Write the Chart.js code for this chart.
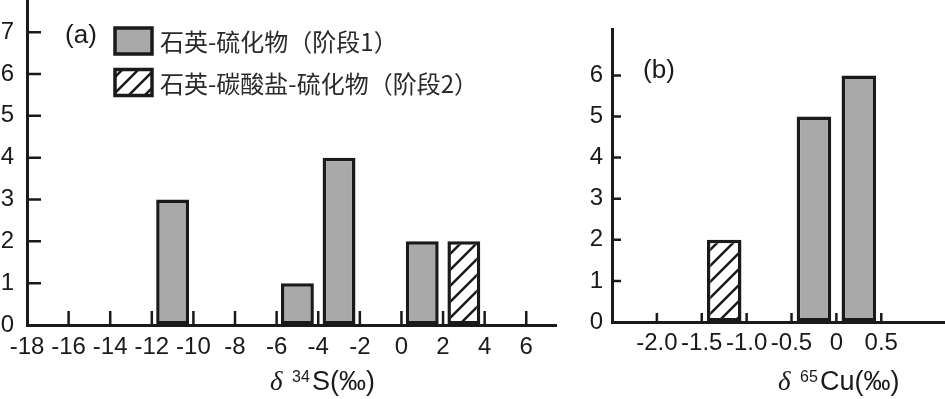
<!DOCTYPE html>
<html>
<head>
<meta charset="utf-8">
<script src="https://cdn.jsdelivr.net/npm/chart.js@4"></script>
<style>
  html, body { margin: 0; padding: 0; background: #fff; }
  #wrap { position: relative; width: 945px; height: 399px; overflow: hidden; }
  #graph_sulfur { position: absolute; left: 0; top: 0; }
  #graph_copper { position: absolute; left: 560px; top: 0; }
</style>
</head>
<body>
<div id="wrap">
  <canvas id="graph_sulfur" width="560" height="399"></canvas>
  <canvas id="graph_copper" width="385" height="399"></canvas>
</div>
<script>
// (a) delta 34S histogram
const sulfur_stage1_x = [-11, -5, -3, 1];
const sulfur_stage1_n = [3, 1, 4, 2];
const sulfur_stage2_x = [3];
const sulfur_stage2_n = [2];
const sulfur_ticks_x = [-18, -16, -14, -12, -10, -8, -6, -4, -2, 0, 2, 4, 6];
const sulfur_ticks_y = [0, 1, 2, 3, 4, 5, 6, 7];

// (b) delta 65Cu histogram
const copper_stage1_x = [-0.25, 0.25];
const copper_stage1_n = [5, 6];
const copper_stage2_x = [-1.25];
const copper_stage2_n = [2];
const copper_ticks_x = [-2, -1.5, -1, -0.5, 0, 0.5];
const copper_tick_labels = ['-2.0', '-1.5', '-1.0', '-0.5', '0', '0.5'];
const copper_ticks_y = [0, 1, 2, 3, 4, 5, 6];

const stage_labels = ['石英-硫化物（阶段1）', '石英-碳酸盐-硫化物（阶段2）'];

const ink = '#1a1a1a';
const grey = '#a9a9a9';
const tickFont = { family: '"Liberation Sans", Arial, sans-serif', size: 24 };

const toPoints = (xs, ns) => xs.map((x, i) => ({ x: x, y: ns[i] }));

const makeHatch = (ctx) => {
    const size = 16;
    const c = document.createElement('canvas');
    c.width = size;
    c.height = size;
    const g = c.getContext('2d');
    g.fillStyle = '#fff';
    g.fillRect(0, 0, size, size);
    g.strokeStyle = ink;
    g.lineWidth = 2.5;
    g.beginPath();
    g.moveTo(0, size); g.lineTo(size, 0);
    g.moveTo(-size / 2, size / 2); g.lineTo(size / 2, -size / 2);
    g.moveTo(size / 2, size * 1.5); g.lineTo(size * 1.5, size / 2);
    g.stroke();
    return ctx.createPattern(c, 'repeat');
};

// short tick marks pointing into the plot
const inwardTicks = {
    id: 'inwardTicks',
    afterDraw(chart, args, opts) {
        const { ctx, chartArea, scales: { x, y } } = chart;
        ctx.save();
        ctx.strokeStyle = ink;
        ctx.lineWidth = 2.5;
        ctx.beginPath();
        x.ticks.forEach((t) => {
            if (t.value === x.min) return;
            const px = x.getPixelForValue(t.value);
            ctx.moveTo(px, chartArea.bottom);
            ctx.lineTo(px, chartArea.bottom - opts.length);
        });
        y.ticks.forEach((t) => {
            if (t.value === y.min) return;
            const py = y.getPixelForValue(t.value);
            ctx.moveTo(chartArea.left, py);
            ctx.lineTo(chartArea.left + opts.length, py);
        });
        ctx.stroke();
        ctx.restore();
    }
};

// panel letter, boxed legend and the delta axis title
const decorations = {
    id: 'decorations',
    afterDraw(chart, args, opts) {
        const ctx = chart.ctx;
        ctx.save();
        ctx.fillStyle = ink;

        ctx.font = '26px "Liberation Sans", Arial, sans-serif';
        ctx.textAlign = 'center';
        ctx.textBaseline = 'middle';
        ctx.fillText(opts.panel, opts.panelX, opts.panelY);

        if (opts.legend) {
            chart.data.datasets.forEach((ds, i) => {
                const bx = opts.legend.x;
                const by = opts.legend.y + i * opts.legend.gap;
                ctx.fillStyle = ds.backgroundColor;
                ctx.fillRect(bx, by, 37, 26);
                ctx.strokeStyle = ink;
                ctx.lineWidth = 3.5;
                ctx.strokeRect(bx, by, 37, 26);
                ctx.fillStyle = '#2a2a2a';
                ctx.font = '24px "Noto Sans CJK SC", sans-serif';
                ctx.textAlign = 'left';
                ctx.textBaseline = 'middle';
                ctx.fillText(ds.label, bx + 45, by + 14);
            });
        }

        const t = opts.title;
        ctx.fillStyle = ink;
        ctx.textAlign = 'left';
        ctx.textBaseline = 'alphabetic';
        ctx.font = 'italic 27px "Liberation Serif", serif';
        ctx.fillText('δ', t.x, t.baseline);
        ctx.font = '16px "Liberation Sans", Arial, sans-serif';
        ctx.fillText(t.sup, t.x + 22, t.baseline - 8);
        ctx.font = '27px "Liberation Sans", Arial, sans-serif';
        ctx.fillText(t.rest, t.x + 42, t.baseline);
        ctx.restore();
    }
};

const axisBase = {
    grid: { display: true, drawOnChartArea: false, drawTicks: false },
    border: { display: true, color: ink, width: 3 }
};

const buildChart = (canvasId, cfg) => {
    const ctx = document.getElementById(canvasId).getContext('2d');
    const hatch = makeHatch(ctx);
    const barStyle = {
        borderColor: ink,
        borderWidth: 3.5,
        borderSkipped: false,
        grouped: false,
        categoryPercentage: 1,
        barPercentage: cfg.barPercentage
    };
    return new Chart(ctx, {
        type: 'bar',
        data: {
            datasets: [
                Object.assign({ label: stage_labels[0], data: cfg.stage1, backgroundColor: grey }, barStyle),
                Object.assign({ label: stage_labels[1], data: cfg.stage2, backgroundColor: hatch }, barStyle)
            ]
        },
        options: {
            responsive: false,
            animation: false,
            layout: { padding: cfg.padding },
            plugins: {
                legend: { display: false },
                tooltip: { enabled: false },
                inwardTicks: { length: cfg.tickLength },
                decorations: cfg.decor
            },
            scales: {
                x: Object.assign({}, axisBase, {
                    type: 'linear',
                    offset: false,
                    min: cfg.xMin,
                    max: cfg.xMax,
                    afterBuildTicks: (scale) => { scale.ticks = cfg.ticksX.map((v) => ({ value: v })); },
                    afterFit: (scale) => {
                        scale.height = cfg.xHeight;
                        scale.paddingLeft = 0;
                        scale.paddingRight = 0;
                    },
                    ticks: {
                        autoSkip: false,
                        maxRotation: 0,
                        minRotation: 0,
                        padding: cfg.xPad,
                        color: ink,
                        font: tickFont,
                        callback: cfg.labelX
                    }
                }),
                y: Object.assign({}, axisBase, {
                    min: 0,
                    max: cfg.yMax,
                    afterBuildTicks: (scale) => { scale.ticks = cfg.ticksY.map((v) => ({ value: v })); },
                    afterFit: (scale) => {
                        scale.width = cfg.yWidth;
                        scale.paddingTop = 0;
                        scale.paddingBottom = 0;
                    },
                    ticks: {
                        padding: cfg.yPad,
                        color: ink,
                        font: tickFont
                    }
                })
            }
        },
        plugins: [inwardTicks, decorations]
    });
};

buildChart('graph_sulfur', {
    stage1: toPoints(sulfur_stage1_x, sulfur_stage1_n),
    stage2: toPoints(sulfur_stage2_x, sulfur_stage2_n),
    barPercentage: 0.79,
    ticksX: sulfur_ticks_x,
    ticksY: sulfur_ticks_y,
    labelX: (v) => String(v),
    xMin: -18,
    xMax: 7.43,
    yMax: 7.77,
    xHeight: 74,
    yWidth: 27,
    xPad: 8,
    yPad: 13,
    tickLength: 14,
    padding: { top: 0, right: 4, bottom: 0, left: 0 },
    decor: {
        panel: '(a)', panelX: 81, panelY: 36,
        legend: { x: 115, y: 28, gap: 41.5 },
        title: { x: 270, baseline: 390, sup: '34', rest: 'S(‰)' }
    }
});

buildChart('graph_copper', {
    stage1: toPoints(copper_stage1_x, copper_stage1_n),
    stage2: toPoints(copper_stage2_x, copper_stage2_n),
    barPercentage: 0.77,
    ticksX: copper_ticks_x,
    ticksY: copper_ticks_y,
    labelX: (v) => copper_tick_labels[copper_ticks_x.indexOf(v)],
    xMin: -2.5,
    xMax: 1.21,
    yMax: 7.13,
    xHeight: 77,
    yWidth: 52,
    xPad: 7,
    yPad: 9,
    tickLength: 9,
    padding: { top: 29, right: 0, bottom: 0, left: 0 },
    decor: {
        panel: '(b)', panelX: 99, panelY: 71,
        legend: null,
        title: { x: 218, baseline: 390, sup: '65', rest: 'Cu(‰)' }
    }
});
</script>
</body>
</html>
